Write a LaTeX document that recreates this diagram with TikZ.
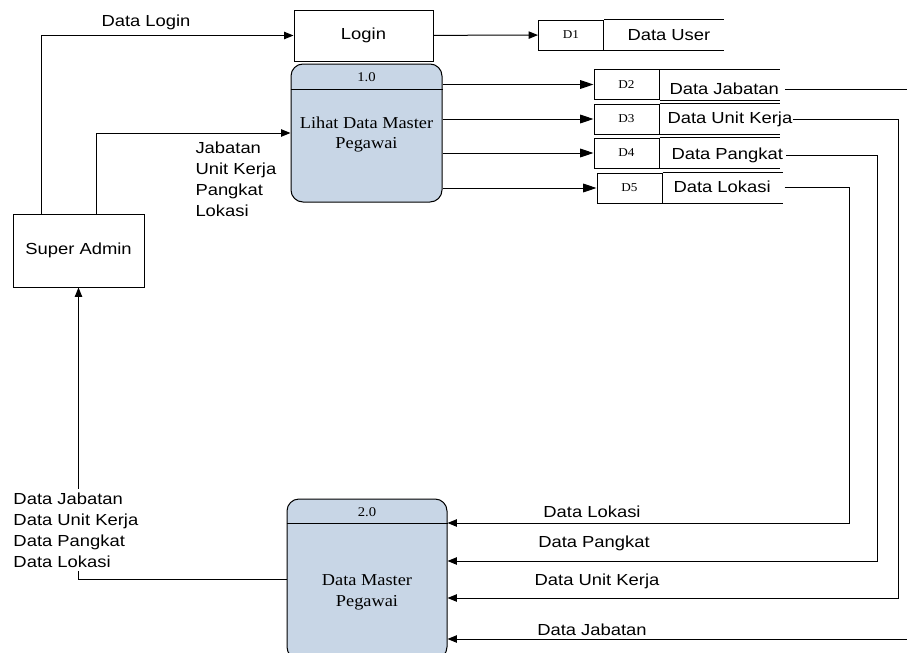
\documentclass[tikz,border=0pt]{standalone}
\usepackage{fontspec}
\setmainfont{Liberation Serif}[FakeStretch=1.1]
\newfontfamily\arialfont{Liberation Sans}[FakeStretch=1.15]
\usetikzlibrary{arrows.meta,positioning}
\definecolor{procblue}{RGB}{200,214,230}
\tikzset{every picture/.style={line width=0.75pt}}
\tikzset{
  proc/.style={draw, rounded corners=9pt, fill=procblue, inner sep=0pt},
  ent/.style={draw, inner sep=0pt, font=\arialfont\fontsize{12}{15.75}\selectfont},
  storeid/.style={draw, minimum width=48.75pt, minimum height=22.5pt, inner sep=0pt, font=\fontsize{9}{11}\selectfont},
  lbl/.style={inner sep=0pt, align=left, font=\arialfont\fontsize{12}{15.75}\selectfont},
  flow/.style={-{Triangle[length=7pt,width=5.5pt]}},
  storeflow/.style={-{Triangle[length=10pt,width=6.5pt]}},
}

\begin{document}
\begin{tikzpicture}[x=0.75pt,y=0.75pt,yscale=-1,xscale=1]
%set diagram size
\clip (0,0) rectangle (907,653);

%Shape: Super Admin
\node[ent, minimum width=98.25pt, minimum height=54.75pt] (admin) at (78.5,250.5) {Super Admin};
%Shape: Login
\node[ent, minimum width=104.25pt, minimum height=38.25pt] (login) at (363.5,35.5) {Login};

%Shape: Process 1.0
\node[proc, minimum width=113.25pt, minimum height=103.5pt] (lihat) at (366.5,133) {};
\draw (lihat.west |- 0,89) -- (lihat.east |- 0,89);
\node[font=\fontsize{10}{12}\selectfont] (lihatno) at (366.5,77) {1.0};
\node[align=center, font=\fontsize{12.5}{15}\selectfont] (lihattxt) at (366.5,135) {Lihat Data Master\\Pegawai};

%Shape: Process 2.0
\node[proc, minimum width=120pt, minimum height=120pt] (master) at (367,579) {};
\draw (master.west |- 0,523) -- (master.east |- 0,523);
\node[font=\fontsize{10}{12}\selectfont] (masterno) at (367,512) {2.0};
\node[align=center, font=\fontsize{12.5}{15.75}\selectfont] (mastertxt) at (367,592) {Data Master\\Pegawai};

%Shape: Data Stores
\node[storeid] (d1) at (571,35) {D1};
\draw (d1.north east) -- ++(120,0) (d1.south east) -- ++(120,0);
\node[storeid] (d2) at (626.5,84.5) {D2};
\draw (d2.north east) -- ++(120,0) (d2.south east) -- ++(120,0);
\node[storeid] (d3) at (626.5,119) {D3};
\draw (d3.north east) -- ++(120,0) (d3.south east) -- ++(120,0);
\node[storeid] (d4) at (626.5,153) {D4};
\draw (d4.north east) -- ++(120,0) (d4.south east) -- ++(120,0);
\node[storeid] (d5) at (629.5,188) {D5};
\draw (d5.north east) -- ++(120,0) (d5.south east) -- ++(120,0);

% Text Node
\node[lbl, anchor=west] (d1t) at (627,35) {Data User};
\node[lbl, anchor=west] (d2t) at (669,89) {Data Jabatan};
\node[lbl, anchor=west] (d3t) at (667,119) {Data Unit Kerja};
\node[lbl, anchor=west] (d4t) at (671,155) {Data Pangkat};
\node[lbl, anchor=west] (d5t) at (673,187) {Data Lokasi};

%Straight Lines: entity to processes
\draw[flow] (admin.north -| 41,0) |- (login.west);
\draw[flow] (admin.north -| 96,0) |- (lihat.west);
\draw[flow] (login) -- (d1);

%Straight Lines: process 1.0 to stores
\draw[storeflow] (lihat.east |- d2.west) -- (d2.west);
\draw[storeflow] (lihat.east |- d3.west) -- (d3.west);
\draw[storeflow] (lihat.east |- d4.west) -- (d4.west);
\draw[storeflow] (lihat.east |- d5.west) -- (d5.west);

%Straight Lines: stores to process 2.0
\coordinate (k2) at (910,639);
\coordinate (k3) at (898,598);
\coordinate (k4) at (877,561);
\coordinate (k5) at (849,523);
\draw[shorten <=4pt] (d2t.east) -- (d2t.east -| 910,0);
\draw[flow] (k2) -- (k2 -| master.east);
\draw[flow] (d3t.east) -| (k3) -- (k3 -| master.east);
\draw[flow, shorten <=2pt] (d4t.east) -| (k4) -- (k4 -| master.east);
\draw[flow, shorten <=10pt] (d5t.east) -| (k5) -- (k5 -| master.east);

%Straight Lines: process 2.0 back to entity
\draw[flow] (master.west) -| (admin.south);

% Text Node
\node[lbl] (lbllogin) at (146,22) {Data Login};
% Text Node
\node[lbl, anchor=north west] (lblinput) at (195,141) {Jabatan\\Unit Kerja\\Pangkat\\Lokasi};
% Text Node
\node[lbl, anchor=north west, fill=white, inner ysep=3pt] (lblback) at (13,488) {Data Jabatan\\Data Unit Kerja\\Data Pangkat\\Data Lokasi};
% Text Node
\node[lbl] (lbllokasi) at (592,512) {Data Lokasi};
\node[lbl] (lblpangkat) at (594,543) {Data Pangkat};
\node[lbl] (lblunit) at (597,581) {Data Unit Kerja};
\node[lbl] (lbljabatan) at (592,630) {Data Jabatan};

\end{tikzpicture}
\end{document}
